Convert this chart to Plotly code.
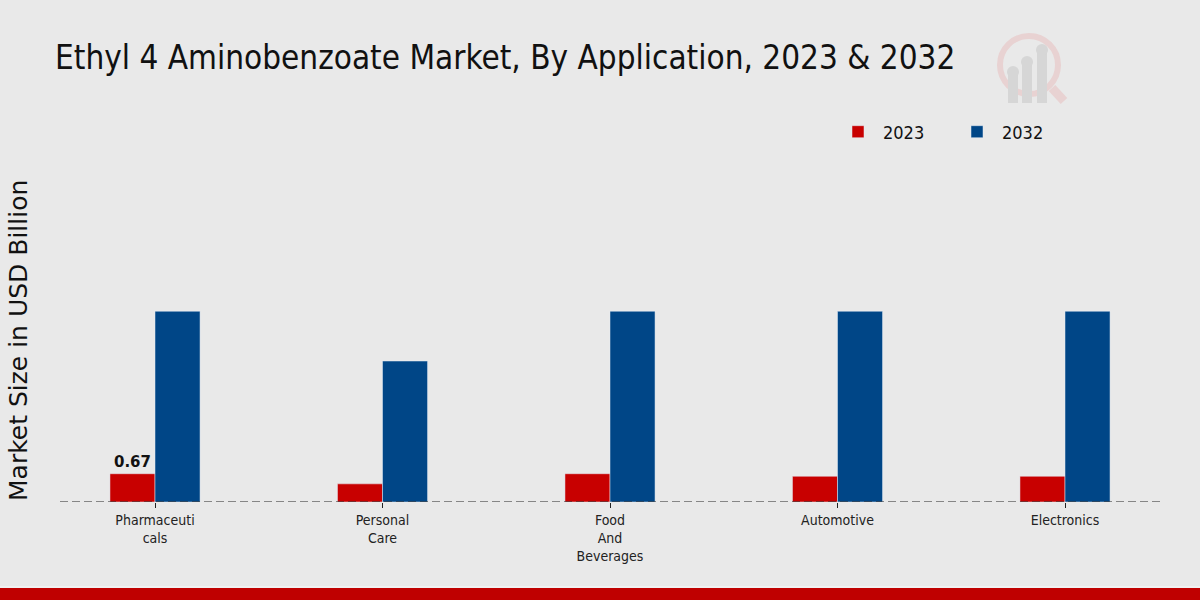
import plotly.graph_objects as go

categories = ["Pharmaceuti<br>cals", "Personal<br>Care", "Food<br>And<br>Beverages", "Automotive", "Electronics"]
values_2023 = [0.67, 0.43, 0.67, 0.61, 0.61]
values_2032 = [4.52, 3.34, 4.52, 4.52, 4.52]
labels_2023 = ["0.67", "", "", "", ""]

FONT = "DejaVu Sans Condensed, Liberation Sans Narrow, DejaVu Sans, sans-serif"

fig = go.Figure()
fig.add_trace(go.Bar(
    name="2023", x=categories, y=values_2023, marker_color="#c80000",
    text=labels_2023, textposition="outside", cliponaxis=False,
    textfont=dict(family="DejaVu Sans, sans-serif", size=15, color="#111111", weight="bold"),
))
fig.add_trace(go.Bar(
    name="2032", x=categories, y=values_2032, marker_color="#004687",
))

# dashed baseline
fig.add_shape(type="line", xref="paper", yref="y", x0=0, x1=1, y0=0, y1=0,
              line=dict(color="#222222", width=1, dash="8px,4px"))

# bottom red band
fig.add_shape(type="rect", xref="paper", yref="paper", x0=-1, x1=2,
              y0=(502 - 600) / 352, y1=(502 - 588) / 352,
              fillcolor="#bf0000", line_width=0, layer="below")
fig.add_shape(type="line", xref="paper", yref="paper", x0=-1, x1=2,
              y0=(502 - 587) / 352, y1=(502 - 587) / 352,
              line=dict(color="#f8f8f8", width=1), layer="below")

# faint logo
fig.add_shape(type="circle", xref="paper", yref="paper",
              x0=(1000 - 60) / 1100, x1=(1058 - 60) / 1100,
              y0=(502 - 94) / 352, y1=(502 - 36) / 352,
              line=dict(color="#e8d2d2", width=6), fillcolor="rgba(0,0,0,0)", layer="below")
fig.add_shape(type="line", xref="paper", yref="paper",
              x0=(1052 - 60) / 1100, x1=(1064 - 60) / 1100,
              y0=(502 - 88) / 352, y1=(502 - 101) / 352,
              line=dict(color="#e8d2d2", width=9), layer="below")
for bx, btop in [(1013, 70), (1027, 60), (1042, 48)]:
    fig.add_shape(type="rect", xref="paper", yref="paper",
                  x0=(bx - 5 - 60) / 1100, x1=(bx + 5 - 60) / 1100,
                  y0=(502 - 103) / 352, y1=(502 - btop) / 352,
                  fillcolor="#d6d6d6", line_width=0, layer="below")
    fig.add_shape(type="circle", xref="paper", yref="paper",
                  x0=(bx - 6 - 60) / 1100, x1=(bx + 6 - 60) / 1100,
                  y0=(502 - btop + 4) / 352, y1=(502 - btop - 8) / 352,
                  fillcolor="#d6d6d6", line_width=0, layer="below")

fig.add_annotation(text="Market Size in USD Billion", textangle=-90,
                   xref="paper", yref="paper", x=(18 - 60) / 1100, y=(502 - 341) / 352,
                   xanchor="center", yanchor="middle", showarrow=False,
                   font=dict(family="DejaVu Sans, sans-serif", size=25, color="#111111"))

fig.update_layout(
    width=1200, height=600,
    paper_bgcolor="#e9e9e9", plot_bgcolor="rgba(0,0,0,0)",
    margin=dict(l=60, r=40, t=150, b=98, autoexpand=False),
    barmode="group", bargap=0.604, bargroupgap=0,
    title=dict(text="Ethyl 4 Aminobenzoate Market, By Application, 2023 & 2032",
               x=55 / 1200, xanchor="left", xref="container",
               y=1 - 57 / 600, yanchor="middle", yref="container",
               font=dict(family=FONT, size=33, color="#111111")),
    legend=dict(orientation="h", x=(833 - 60) / 1100, xanchor="left",
                y=(502 - 132) / 352, yanchor="middle",
                font=dict(family=FONT, size=18, color="#111111"),
                bgcolor="rgba(0,0,0,0)", itemwidth=40, entrywidth=64,
                entrywidthmode="pixels", tracegroupgap=0),
    showlegend=True,
    font=dict(family=FONT),
)
fig.update_xaxes(range=[-0.4176, 4.4176], showgrid=False, zeroline=False, showline=False,
                 ticks="outside", ticklen=5, tickcolor="#222222",
                 tickfont=dict(family=FONT, size=14, color="#222222"))
fig.update_yaxes(range=[0, 8.34], showgrid=False, zeroline=False, showticklabels=False,
                 showline=False)

fig.write_html("out.html", config={"displayModeBar": False},
               post_script="document.body.style.margin='0';")
